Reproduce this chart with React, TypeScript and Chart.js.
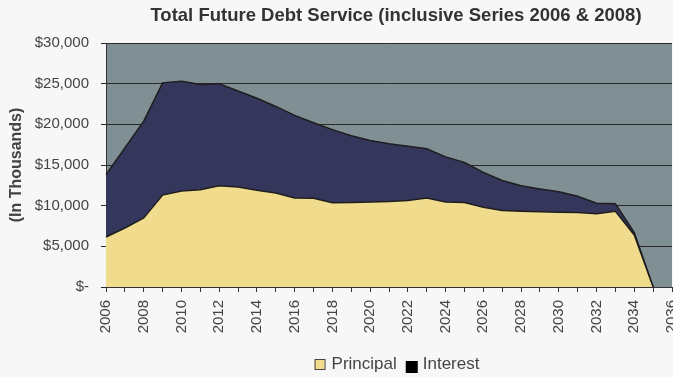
import React, { useEffect, useRef } from "react";
import { Chart, registerables } from "chart.js";

Chart.register(...registerables);

const years: string[] = [
  "2006", "2007", "2008", "2009", "2010", "2011", "2012", "2013", "2014", "2015",
  "2016", "2017", "2018", "2019", "2020", "2021", "2022", "2023", "2024", "2025",
  "2026", "2027", "2028", "2029", "2030", "2031", "2032", "2033", "2034", "2035", "2036",
];

// values in thousands of dollars
const principal: (number | null)[] = [
  6150, 7250, 8500, 11300, 11800, 11950, 12450, 12300, 11900, 11550,
  10950, 10900, 10350, 10400, 10450, 10500, 10650, 10950, 10450, 10400,
  9800, 9400, 9300, 9250, 9200, 9150, 9000, 9300, 6400, 0, null,
];

const interest: (number | null)[] = [
  7650, 9850, 11900, 13800, 13500, 12950, 12550, 11800, 11300, 10650,
  10150, 9300, 9000, 8200, 7550, 7100, 6650, 6050, 5550, 4900,
  4300, 3700, 3150, 2800, 2500, 2000, 1300, 950, 300, 0, null,
];

const titleText = "Total Future Debt Service (inclusive Series 2006 & 2008)";
const yAxisTitle = "(In Thousands)";
const seriesNames = ["Principal", "Interest"];

const FONT = '"Liberation Sans", Arial, sans-serif';
const PRINCIPAL_COLOR = "#f1dc8e";
const INTEREST_COLOR = "#35365c";
const PLOT_BG = "#7f8f93";
const PAGE_BG = "#f7f7f7";

const decorPlugin = {
  id: "decor",
  beforeDraw(chart: any) {
    const { ctx, chartArea } = chart;
    ctx.save();
    ctx.fillStyle = PAGE_BG;
    ctx.fillRect(0, 0, chart.width, chart.height);
    ctx.fillStyle = PLOT_BG;
    ctx.fillRect(chartArea.left, chartArea.top, chartArea.right - chartArea.left, chartArea.bottom - chartArea.top);
    ctx.restore();
  },
  afterDraw(chart: any) {
    const { ctx, chartArea } = chart;
    const cx = (chartArea.left + chartArea.right) / 2;
    ctx.save();
    // title
    ctx.font = `bold 18.5px ${FONT}`;
    ctx.fillStyle = "#333333";
    ctx.textAlign = "center";
    ctx.textBaseline = "alphabetic";
    ctx.fillText(titleText, cx + 7, 21);

    // legend
    ctx.font = `17px ${FONT}`;
    ctx.textAlign = "left";
    const w0 = ctx.measureText(seriesNames[0]).width;
    const w1 = ctx.measureText(seriesNames[1]).width;
    const total = 11 + 6 + w0 + 9 + 12 + 5 + w1;
    let x = cx + 8 - total / 2;
    const base = 369;
    ctx.fillStyle = PRINCIPAL_COLOR;
    ctx.fillRect(x, 359, 10, 10);
    ctx.strokeStyle = "#444";
    ctx.lineWidth = 1;
    ctx.strokeRect(x + 0.5, 359.5, 10, 10);
    x += 11 + 6;
    ctx.fillStyle = "#444444";
    ctx.fillText(seriesNames[0], x, base);
    x += w0 + 9;
    ctx.fillStyle = "#000000";
    ctx.fillRect(x, 361, 12, 12);
    x += 12 + 5;
    ctx.fillStyle = "#444444";
    ctx.fillText(seriesNames[1], x, base);
    ctx.restore();
  },
};

export default function App() {
  const canvasRef = useRef<HTMLCanvasElement | null>(null);

  useEffect(() => {
    document.body.style.margin = "0";
    document.body.style.background = PAGE_BG;
    const canvas = canvasRef.current;
    if (!canvas) return;
    const chart = new Chart(canvas, {
      type: "line",
      data: {
        labels: years,
        datasets: [
          {
            label: seriesNames[0],
            data: principal,
            backgroundColor: PRINCIPAL_COLOR,
            borderColor: "#1e1e1e",
            borderWidth: 1.5,
            pointRadius: 0,
            fill: "origin",
            tension: 0,
          },
          {
            label: seriesNames[1],
            data: interest,
            backgroundColor: INTEREST_COLOR,
            borderColor: "#1e1e1e",
            borderWidth: 1.5,
            pointRadius: 0,
            fill: "-1",
            tension: 0,
          },
        ],
      },
      options: {
        animation: false,
        responsive: false,
        layout: { padding: { left: 0, top: 43, right: 38, bottom: 40 } },
        plugins: {
          legend: { display: false },
          title: { display: false },
          tooltip: { enabled: false },
        },
        scales: {
          x: {
            type: "category",
            offset: false,
            grid: {
              drawOnChartArea: false,
              drawTicks: true,
              tickLength: 5,
              color: "#333333",
            },
            border: { display: true, color: "#333333", width: 1 },
            ticks: {
              autoSkip: false,
              minRotation: 90,
              maxRotation: 90,
              padding: 8,
              color: "#444444",
              font: { family: FONT, size: 15 },
              callback: (_v: any, i: number) => (i % 2 === 0 ? years[i] : ""),
            },
            afterFit: (s: any) => {
              s.height = 50;
            },
          },
          y: {
            stacked: true,
            min: 0,
            max: 30000,
            grid: {
              color: "#2a2a2a",
              lineWidth: 1,
              tickLength: 5,
            },
            border: { display: true, color: "#333333", width: 1 },
            ticks: {
              stepSize: 5000,
              padding: 12,
              color: "#444444",
              font: { family: FONT, size: 15 },
              callback: (v: any) => (Number(v) === 0 ? "$-" : "$" + Number(v).toLocaleString("en-US")),
            },
            title: {
              display: true,
              text: yAxisTitle,
              color: "#444444",
              font: { family: FONT, size: 16, weight: "bold" },
              padding: { top: 7, bottom: 0 },
            },
            afterFit: (s: any) => {
              s.width = 106;
            },
          },
        },
      },
      plugins: [decorPlugin],
    } as any);
    return () => chart.destroy();
  }, []);

  return (
    <div style={{ position: "absolute", left: 0, top: 0, width: 673, height: 377, overflow: "hidden", background: PAGE_BG }}>
      <canvas ref={canvasRef} width={710} height={377} style={{ display: "block", width: 710, height: 377 }} />
    </div>
  );
}
